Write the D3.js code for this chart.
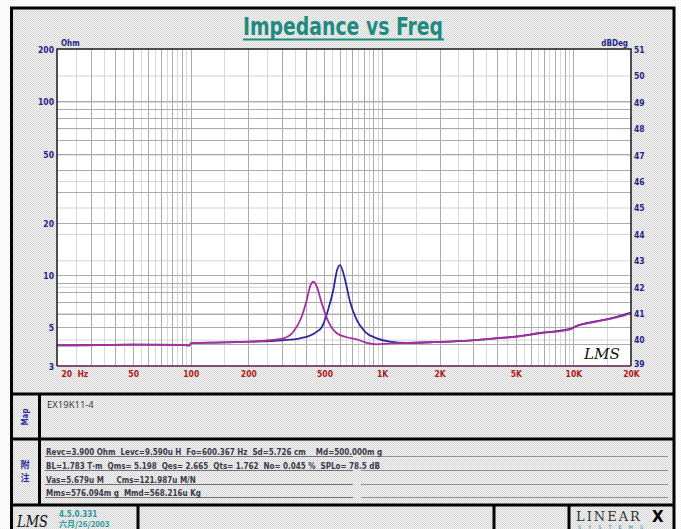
<!DOCTYPE html>
<html>
<head>
<meta charset="utf-8">
<script src="https://cdn.jsdelivr.net/npm/d3@7"></script>
<style>
  html, body { margin: 0; padding: 0; background: #fff; }
  svg { display: block; }
  .lbl { font-family: "Liberation Sans Narrow", "DejaVu Sans Condensed", Arial, sans-serif; font-weight: bold; }
</style>
</head>
<body>
<svg id="chart" width="681" height="529"></svg>
<script>
// impedance curves (Hz, Ohm)
const magentaFreq = [20, 33, 50, 90, 98, 101, 150, 204, 260, 305, 344, 380, 404, 420, 437, 456, 484, 524, 580, 654, 737, 832, 938, 1101, 1346, 1782, 2661, 3978, 5058, 6698, 9610, 10418, 13250, 16866, 20000];
const magentaOhm  = [3.94, 3.96, 3.98, 3.97, 3.93, 4.07, 4.10, 4.14, 4.22, 4.33, 4.72, 5.76, 7.19, 8.58, 9.16, 8.58, 6.88, 5.40, 4.63, 4.39, 4.27, 4.08, 4.00, 4.05, 4.07, 4.11, 4.18, 4.33, 4.42, 4.63, 4.88, 5.09, 5.40, 5.72, 6.03];
const blueFreq = [20, 33, 50, 90, 98, 101, 150, 204, 300, 372, 446, 485, 522, 556, 582, 603, 641, 680, 737, 815, 938, 1101, 1346, 1782, 2661, 3978, 5058, 6698, 9610, 10418, 13250, 16866, 20000];
const blueOhm  = [3.94, 3.96, 3.98, 3.97, 3.93, 4.07, 4.10, 4.14, 4.22, 4.33, 4.65, 5.03, 6.30, 8.21, 10.7, 11.43, 9.38, 7.03, 5.52, 4.72, 4.33, 4.14, 4.07, 4.11, 4.19, 4.34, 4.44, 4.65, 4.90, 5.10, 5.43, 5.76, 6.08];

const ohmTicks = [200, 100, 50, 20, 10, 5, 3];
const dbTicks = [39, 40, 41, 42, 43, 44, 45, 46, 47, 48, 49, 50, 51];
const freqTicks = [20, 50, 100, 200, 500, 1000, 2000, 5000, 10000, 20000];
const freqLabels = ["20  Hz", "50", "100", "200", "500", "1K", "2K", "5K", "10K", "20K"];

const notes = [
  "Revc=3.900 Ohm  Levc=9.590u H  Fo=600.367 Hz  Sd=5.726 cm    Md=500.000m g",
  "BL=1.783 T·m  Qms= 5.198  Qes= 2.665  Qts= 1.762  No= 0.045 %  SPLo= 78.5 dB",
  "Vas=5.679u M     Cms=121.987u M/N",
  "Mms=576.094m g  Mmd=568.216u Kg"
];

const svg = d3.select("#chart");
const plot = { left: 57, right: 631, top: 49, bottom: 366 };

// textured background
const defs = svg.append("defs");
const pat = defs.append("pattern").attr("id", "hatch")
  .attr("width", 2).attr("height", 2).attr("patternUnits", "userSpaceOnUse");
pat.append("rect").attr("width", 2).attr("height", 2).attr("fill", "#f3f3f3");
pat.append("rect").attr("width", 1).attr("height", 1).attr("fill", "#d6d6d6");
pat.append("rect").attr("x", 1).attr("y", 1).attr("width", 1).attr("height", 1).attr("fill", "#d6d6d6");
const pat2 = defs.append("pattern").attr("id", "hatch2")
  .attr("width", 2).attr("height", 2).attr("patternUnits", "userSpaceOnUse");
pat2.append("rect").attr("width", 2).attr("height", 2).attr("fill", "#ffffff");
pat2.append("rect").attr("width", 1).attr("height", 1).attr("fill", "#f0f0f0");

svg.append("rect").attr("width", 681).attr("height", 529).attr("fill", "url(#hatch2)");
svg.append("rect").attr("x", 11.5).attr("y", 8).attr("width", 662.5).attr("height", 530)
  .attr("fill", "url(#hatch)").attr("stroke", "#000").attr("stroke-width", 3);

// title
svg.append("text").attr("class", "lbl")
  .attr("x", 343).attr("y", 35).attr("text-anchor", "middle")
  .attr("font-size", 24).attr("fill", "#1f8a80")
  .attr("textLength", 200).attr("lengthAdjust", "spacingAndGlyphs")
  .text("Impedance vs Freq");
svg.append("line").attr("x1", 243).attr("x2", 444).attr("y1", 39.5).attr("y2", 39.5)
  .attr("stroke", "#1f8a80").attr("stroke-width", 2);

// scales
const x = d3.scaleLog().domain([20, 20000]).range([plot.left, plot.right]);
const y = d3.scaleLog().domain([3, 200]).range([plot.bottom, plot.top]);
const yDb = d3.scaleLinear().domain([39, 51]).range([plot.bottom, plot.top]);

svg.append("rect").attr("x", plot.left).attr("y", plot.top)
  .attr("width", plot.right - plot.left).attr("height", plot.bottom - plot.top).attr("fill", "#fff");

const grid = svg.append("g");
// light lines: dB grid and half-step frequencies
grid.selectAll(".db").data(dbTicks.slice(1, -1)).join("line")
  .attr("x1", plot.left).attr("x2", plot.right)
  .attr("y1", d => yDb(d) + 0.5).attr("y2", d => yDb(d) + 0.5)
  .attr("stroke", "#d4d4d4");
const halfFreqs = [];
[10, 100, 1000, 10000].forEach(dec => {
  for (let k = 1; k < 10; k++) {
    const f = (k + 0.5) * dec;
    if (f > 20 && f < 20000) halfFreqs.push(f);
  }
});
grid.selectAll(".hf").data(halfFreqs).join("line")
  .attr("x1", d => Math.round(x(d)) + 0.5).attr("x2", d => Math.round(x(d)) + 0.5)
  .attr("y1", plot.top).attr("y2", plot.bottom)
  .attr("stroke", "#d8d8d8");
// darker log grid
grid.selectAll(".vf").data(x.ticks().filter(d => d > 20 && d < 20000)).join("line")
  .attr("x1", d => Math.round(x(d)) + 0.5).attr("x2", d => Math.round(x(d)) + 0.5)
  .attr("y1", plot.top).attr("y2", plot.bottom)
  .attr("stroke", "#ababab");
grid.selectAll(".ho").data(y.ticks().filter(d => d > 3 && d < 200)).join("line")
  .attr("x1", plot.left).attr("x2", plot.right)
  .attr("y1", d => Math.round(y(d)) + 0.5).attr("y2", d => Math.round(y(d)) + 0.5)
  .attr("stroke", "#ababab");

// curves
const line = d3.line().x(d => x(d[0])).y(d => y(d[1])).curve(d3.curveMonotoneX);
svg.append("path").datum(d3.zip(blueFreq, blueOhm))
  .attr("d", line).attr("fill", "none").attr("stroke", "#2a2a9c").attr("stroke-width", 1.8);
svg.append("path").datum(d3.zip(magentaFreq, magentaOhm))
  .attr("d", line).attr("fill", "none").attr("stroke", "#a8309c").attr("stroke-width", 1.8);

// plot border
svg.append("path")
  .attr("d", `M${plot.left},${plot.bottom}V${plot.top}H${plot.right}V${plot.bottom}`)
  .attr("fill", "none").attr("stroke", "#1a1a1a").attr("stroke-width", 1.5);
svg.append("line").attr("x1", plot.left).attr("x2", plot.right)
  .attr("y1", plot.bottom).attr("y2", plot.bottom)
  .attr("stroke", "#5a1848").attr("stroke-width", 1.5);

// axes
const axL = svg.append("g").attr("transform", `translate(${plot.left - 2},0)`)
  .call(d3.axisLeft(y).tickValues(ohmTicks).tickFormat(d => d).tickSize(0).tickPadding(1));
const axR = svg.append("g").attr("transform", `translate(${plot.right + 2},0)`)
  .call(d3.axisRight(yDb).tickValues(dbTicks).tickFormat(d => d).tickSize(0).tickPadding(1));
const axB = svg.append("g").attr("transform", `translate(0,${plot.bottom + 3})`)
  .call(d3.axisBottom(x).tickValues(freqTicks).tickFormat((d, i) => freqLabels[i]).tickSize(0).tickPadding(1));
[axL, axR, axB].forEach(a => {
  a.select(".domain").remove();
  a.selectAll("text").attr("class", "lbl").attr("font-size", 8.5);
});
axL.selectAll("text").attr("fill", "#24248a").attr("dy", "0.4em");
axR.selectAll("text").attr("fill", "#24248a").attr("dy", "0.4em");
axR.selectAll("text").filter(d => d === 39).attr("dy", "0.1em");
axB.selectAll("text").attr("fill", "#b01a1a").attr("dy", "0.8em")
  .style("white-space", "pre");
axB.selectAll("text").filter((d, i) => i === 0).attr("text-anchor", "start").attr("x", 4);

svg.append("text").attr("class", "lbl").attr("x", 61).attr("y", 46)
  .attr("font-size", 8).attr("fill", "#24248a").text("Ohm");
svg.append("text").attr("class", "lbl").attr("x", 628).attr("y", 46).attr("text-anchor", "end")
  .attr("font-size", 8).attr("fill", "#24248a").text("dBDeg");

// LMS mark in plot
svg.append("text").attr("x", 584).attr("y", 359)
  .attr("font-family", "DejaVu Serif, serif").attr("font-style", "italic")
  .attr("font-size", 15).attr("fill", "#111")
  .attr("textLength", 36).attr("lengthAdjust", "spacingAndGlyphs").text("LMS");

// lower panels
const thick = (x1, y1, x2, y2) => svg.append("line")
  .attr("x1", x1).attr("y1", y1).attr("x2", x2).attr("y2", y2)
  .attr("stroke", "#000").attr("stroke-width", 3);
thick(11.5, 394, 674, 394);
thick(11.5, 439, 674, 439);
thick(11.5, 505, 674, 505);
thick(39.5, 394, 39.5, 505);
thick(138, 505, 138, 529);
thick(494, 505, 494, 529);
thick(569, 505, 569, 529);

svg.append("text").attr("class", "lbl").attr("font-size", 8).attr("fill", "#2a2aa0")
  .attr("transform", "translate(28,417) rotate(-90)").attr("text-anchor", "middle").text("Map");
svg.append("text").attr("font-family", "Noto Sans CJK SC").attr("font-weight", "bold")
  .attr("font-size", 9).attr("fill", "#2a2aa0").attr("x", 25).attr("y", 468)
  .attr("text-anchor", "middle").text("附");
svg.append("text").attr("font-family", "Noto Sans CJK SC").attr("font-weight", "bold")
  .attr("font-size", 9).attr("fill", "#2a2aa0").attr("x", 25).attr("y", 481)
  .attr("text-anchor", "middle").text("注");

svg.append("text").attr("x", 47).attr("y", 408)
  .attr("font-family", "Open Sans, sans-serif").attr("font-size", 9.5).attr("fill", "#333")
  .text("EX19K11-4");

const noteY = [456, 470, 484, 497];
svg.selectAll(".nl1").data(noteY).join("line")
  .attr("x1", 45).attr("x2", 353).attr("y1", d => d + 0.5).attr("y2", d => d + 0.5)
  .attr("stroke", "#707070");
svg.selectAll(".nl2").data(noteY).join("line")
  .attr("x1", 361).attr("x2", 668).attr("y1", d => d + 0.5).attr("y2", d => d + 0.5)
  .attr("stroke", "#909090");
svg.selectAll(".nt").data(notes).join("text").attr("class", "lbl")
  .attr("x", 46).attr("y", (d, i) => noteY[i] - 1.5)
  .attr("font-size", 8).attr("fill", "#3a3a4a").style("white-space", "pre")
  .text(d => d);

// footer
svg.append("text").attr("x", 17).attr("y", 527)
  .attr("font-family", "DejaVu Serif, serif").attr("font-style", "italic")
  .attr("font-size", 16).attr("fill", "#111")
  .attr("textLength", 31).attr("lengthAdjust", "spacingAndGlyphs").text("LMS");
svg.append("text").attr("class", "lbl").attr("x", 59).attr("y", 517)
  .attr("font-size", 8).attr("fill", "#2a9a9a").text("4.5.0.331");
svg.append("text").attr("font-family", "Noto Sans CJK SC").attr("font-weight", "bold")
  .attr("x", 59).attr("y", 527).attr("font-size", 8).attr("fill", "#2a9a9a").text("六月/26/2003");

svg.append("text").attr("x", 576).attr("y", 521)
  .attr("font-family", "DejaVu Serif, serif").attr("font-size", 13).attr("fill", "#333")
  .attr("letter-spacing", 2).text("LINEAR");
svg.append("text").attr("x", 652).attr("y", 522)
  .attr("font-family", "DejaVu Sans, sans-serif").attr("font-weight", "bold")
  .attr("font-size", 15).attr("fill", "#000").text("X");
svg.append("text").attr("x", 578).attr("y", 529)
  .attr("font-family", "DejaVu Sans, sans-serif").attr("font-size", 5).attr("fill", "#3a8aa8")
  .attr("letter-spacing", 7).text("SYSTEMS");
</script>
</body>
</html>
